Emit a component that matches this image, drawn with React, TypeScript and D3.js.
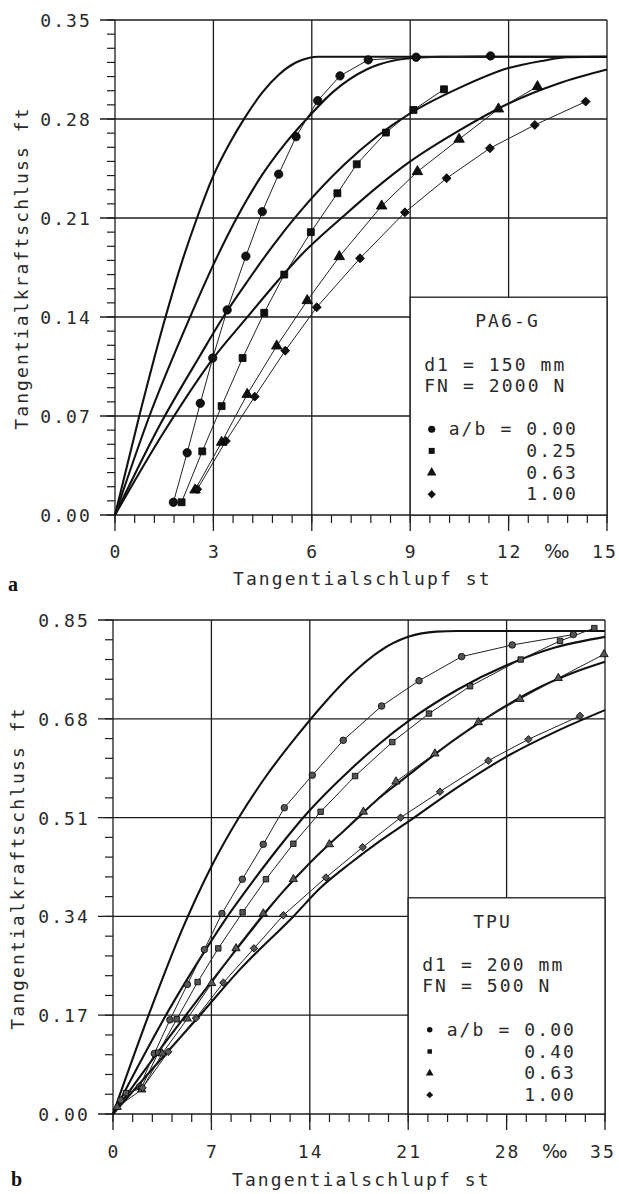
import React from "react";
import * as d3 from "d3";

type Pt = [number, number];

const FONT = "'DejaVu Sans Mono', 'Liberation Mono', monospace";
const INK = "#1c1c1c";
const TEXT_INK = "#2a2a2a";

// ---------------- Panel a (PA6-G) ----------------
const aXTicks = [0, 3, 6, 9, 12, 15];
const aXTickLabels = ["0", "3", "6", "9", "12", "15"];
const aYTicks = [0, 0.07, 0.14, 0.21, 0.28, 0.35];
const aYTickLabels = ["0.00", "0.07", "0.14", "0.21", "0.28", "0.35"];
const aXMinorStep = 0.6;
const aYMinorStep = 0.01;

const aCurve1: Pt[] = [[0, 0], [0.74, 0.07], [1.54, 0.14], [2.0, 0.176], [2.5, 0.21], [3.0, 0.24], [3.5, 0.263], [3.96, 0.281], [4.5, 0.299], [5.0, 0.3115], [5.5, 0.3198], [5.9, 0.3232], [6.2, 0.324], [15, 0.324]];
const aCurve2: Pt[] = [[0, 0], [1.05, 0.07], [2.29, 0.14], [3.0, 0.177], [3.71, 0.21], [4.5, 0.241], [5.2, 0.263], [5.92, 0.282], [6.64, 0.299], [7.67, 0.315], [8.5, 0.3213], [9.3, 0.3235], [10, 0.324], [15, 0.324]];
const aCurve3: Pt[] = [[0, 0], [1.4, 0.065], [2.6, 0.113], [3.3, 0.14], [4.06, 0.166], [4.8, 0.19], [5.64, 0.2145], [7.0, 0.248], [8.0, 0.268], [9.0, 0.284], [10.5, 0.302], [12.0, 0.316], [13.0, 0.321], [13.8, 0.3237], [15, 0.324]];
const aCurve4: Pt[] = [[0, 0], [1.5, 0.059], [3.0, 0.111], [4.0, 0.139], [4.98, 0.166], [5.64, 0.183], [7.0, 0.212], [8.0, 0.232], [9.0, 0.25], [10.5, 0.272], [12.0, 0.291], [13.5, 0.305], [15, 0.315]];

const aCircles: Pt[] = [[1.78, 0.009], [2.2, 0.044], [2.6, 0.079], [2.98, 0.111], [3.42, 0.145], [3.99, 0.183], [4.49, 0.2145], [4.99, 0.241], [5.52, 0.2675], [6.18, 0.293], [6.86, 0.3105], [7.72, 0.3218], [9.18, 0.3237], [11.45, 0.3246]];
const aSquares: Pt[] = [[2.03, 0.009], [2.66, 0.045], [3.25, 0.077], [3.89, 0.111], [4.55, 0.143], [5.16, 0.17], [5.97, 0.2], [6.78, 0.2275], [7.37, 0.248], [8.26, 0.2704], [9.1, 0.2864], [10.03, 0.301]];
const aTriangles: Pt[] = [[2.44, 0.0177], [3.25, 0.0514], [4.03, 0.0853], [4.93, 0.1195], [5.86, 0.1516], [6.84, 0.1827], [8.13, 0.2185], [9.22, 0.2428], [10.49, 0.2657], [11.69, 0.2871], [12.88, 0.3029]];
const aDiamonds: Pt[] = [[2.51, 0.0182], [3.38, 0.0523], [4.26, 0.0837], [5.19, 0.1162], [6.15, 0.1469], [7.47, 0.1815], [8.84, 0.214], [10.11, 0.2381], [11.43, 0.2593], [12.8, 0.2758], [14.35, 0.2923]];

const aLegendTitle = "PA6-G";
const aLegendLines = ["d1 = 150 mm", "FN = 2000 N"];
const aLegendValues = ["0.00", "0.25", "0.63", "1.00"];
const aLegendCorner: Pt = [9, 0.154];

// ---------------- Panel b (TPU) ----------------
const bXTicks = [0, 7, 14, 21, 28, 35];
const bXTickLabels = ["0", "7", "14", "21", "28", "35"];
const bYTicks = [0, 0.17, 0.34, 0.51, 0.68, 0.85];
const bYTickLabels = ["0.00", "0.17", "0.34", "0.51", "0.68", "0.85"];
const bXMinorStep = 1.4;
const bYMinorStep = 0.034;

const bCurve1: Pt[] = [[0, 0], [2.5, 0.168], [5, 0.322], [7, 0.426], [9, 0.512], [11, 0.585], [13, 0.648], [15, 0.706], [17, 0.757], [19, 0.797], [21, 0.821], [23, 0.83], [24.5, 0.831], [35, 0.831]];
const bCurve2: Pt[] = [[0, 0], [2, 0.092], [4, 0.18], [6, 0.26], [8, 0.335], [10, 0.402], [12, 0.465], [13.9, 0.52], [16.86, 0.592], [19, 0.638], [21.01, 0.676], [24.5, 0.73], [28, 0.772], [31.5, 0.803], [35, 0.821]];
const bCurve3: Pt[] = [[0, 0], [3, 0.1], [6, 0.196], [9, 0.29], [12, 0.38], [14, 0.432], [16.86, 0.497], [19, 0.545], [21.01, 0.583], [23.5, 0.63], [25.99, 0.672], [28, 0.703], [30, 0.73], [32.5, 0.757], [35, 0.778]];
const bCurve4: Pt[] = [[0, 0], [3, 0.083], [6.19, 0.17], [9, 0.248], [12.83, 0.34], [14.8, 0.39], [16.86, 0.431], [19, 0.47], [21.01, 0.503], [24.5, 0.562], [28, 0.615], [31.5, 0.658], [35, 0.695]];

const bCircles: Pt[] = [[0.55, 0.024], [1.9, 0.047], [2.94, 0.104], [4.05, 0.162], [5.29, 0.223], [6.5, 0.283], [7.75, 0.345], [9.2, 0.404], [10.69, 0.464], [12.19, 0.527], [14.18, 0.583], [16.38, 0.643], [19.11, 0.702], [21.77, 0.7455], [24.8, 0.787], [28.4, 0.807], [32.75, 0.825]];
const bSquares: Pt[] = [[0.92, 0.036], [2.0, 0.044], [3.22, 0.1055], [4.53, 0.163], [6.02, 0.227], [7.49, 0.285], [9.22, 0.347], [10.88, 0.404], [12.83, 0.465], [14.77, 0.52], [17.22, 0.5815], [19.87, 0.64], [22.48, 0.689], [25.4, 0.736], [29.0, 0.782], [31.8, 0.814], [34.24, 0.836]];
const bTriangles: Pt[] = [[0.3, 0.012], [2.05, 0.042], [3.5, 0.104], [5.29, 0.164], [7.02, 0.225], [8.75, 0.285], [10.69, 0.345], [12.83, 0.404], [15.39, 0.464], [17.81, 0.52], [20.13, 0.572], [22.9, 0.62], [25.99, 0.674], [28.95, 0.714], [31.68, 0.75], [34.93, 0.791]];
const bDiamonds: Pt[] = [[2.1, 0.045], [3.93, 0.107], [5.9, 0.165], [7.85, 0.226], [10.03, 0.285], [12.12, 0.342], [15.15, 0.407], [17.76, 0.459], [20.46, 0.51], [23.26, 0.5546], [26.7, 0.608], [29.55, 0.6447], [33.22, 0.685]];

const bLegendTitle = "TPU";
const bLegendLines = ["d1 = 200 mm", "FN = 500 N"];
const bLegendValues = ["0.00", "0.40", "0.63", "1.00"];
const bLegendCorner: Pt = [21, 0.372];

const xTitle = "Tangentialschlupf st";
const yTitle = "Tangentialkraftschluss ft";
const unitLabel = "‰";

// circle, square, triangle, diamond (square rotated by 45°)
const symbolTypes = [d3.symbolCircle, d3.symbolSquare, d3.symbolTriangle, d3.symbolSquare];
const symbolRot = [0, 0, 0, 45];

interface PanelProps {
  xDomain: Pt;
  yDomain: Pt;
  xRange: Pt;
  yRange: Pt;
  xTicks: number[];
  xTickLabels: string[];
  yTicks: number[];
  yTickLabels: string[];
  xMinorStep: number;
  yMinorStep: number;
  curves: Pt[][];
  series: Pt[][];
  markerSizes: number[];
  markerFill: string;
  legendSizes: number[];
  legendTitle: string;
  legendLines: string[];
  legendValues: string[];
  legendCorner: Pt;
  yLabelRight: number;
  xLabelBaseline: number;
  yTitleX: number;
  yTitleY: number;
  xTitleX: number;
  xTitleBaseline: number;
  letter: string;
  letterPos: Pt;
}

const fontStyle: React.CSSProperties = { fontFamily: FONT, fontSize: 18, letterSpacing: 2.1, fill: TEXT_INK };

function Panel(p: PanelProps) {
  const x = d3.scaleLinear().domain(p.xDomain).range(p.xRange);
  const y = d3.scaleLinear().domain(p.yDomain).range(p.yRange);
  const [xl, xr] = p.xRange;
  const [yb, yt] = p.yRange;
  const xMinor = d3.range(p.xDomain[0], p.xDomain[1] + 1e-9, p.xMinorStep);
  const yMinor = d3.range(p.yDomain[0], p.yDomain[1] + 1e-9, p.yMinorStep);
  const thick = d3.line<Pt>().x((d) => x(d[0])).y((d) => y(d[1])).curve(d3.curveMonotoneX);
  const thin = d3.line<Pt>().x((d) => x(d[0])).y((d) => y(d[1]));
  const lx = x(p.legendCorner[0]);
  const ly = y(p.legendCorner[1]);
  const gridW = 1.3;
  const nT = p.xTicks.length;

  return (
    <g>
      {/* minor ticks */}
      {yMinor.map((v, i) => (
        <line key={"ym" + i} x1={xl - 8} x2={xl} y1={y(v)} y2={y(v)} stroke={INK} strokeWidth={1.2} />
      ))}
      {xMinor.map((v, i) => (
        <line key={"xm" + i} x1={x(v)} x2={x(v)} y1={yb} y2={yb + 8} stroke={INK} strokeWidth={1.2} />
      ))}
      {/* grid lines and major ticks */}
      {p.yTicks.map((v, i) => (
        <line key={"yg" + i} x1={xl - 15} x2={xr} y1={y(v)} y2={y(v)} stroke={INK} strokeWidth={gridW} />
      ))}
      {p.xTicks.map((v, i) => (
        <line key={"xg" + i} x1={x(v)} x2={x(v)} y1={yt} y2={yb + 16} stroke={INK} strokeWidth={gridW} />
      ))}
      {/* legend box */}
      <rect x={lx} y={ly} width={xr - lx} height={yb - ly} fill="#fff" stroke={INK} strokeWidth={gridW} />
      {/* model curves */}
      {p.curves.map((c, i) => (
        <path key={"c" + i} d={thick(c) || ""} fill="none" stroke="#111" strokeWidth={2.1} />
      ))}
      {/* measured series */}
      {p.series.map((s, i) => (
        <path key={"s" + i} d={thin(s) || ""} fill="none" stroke="#222" strokeWidth={1} />
      ))}
      {p.series.map((s, i) =>
        s.map((d, j) => (
          <path
            key={"m" + i + "-" + j}
            transform={`translate(${x(d[0])},${y(d[1])}) rotate(${symbolRot[i]})`}
            d={d3.symbol().type(symbolTypes[i]).size(p.markerSizes[i])() || ""}
            fill={p.markerFill}
            stroke="#000"
            strokeWidth={0.8}
          />
        ))
      )}
      {/* tick labels */}
      {p.yTicks.map((v, i) => (
        <text key={"yl" + i} x={p.yLabelRight} y={y(v) + 7} textAnchor="end" style={fontStyle}>
          {p.yTickLabels[i]}
        </text>
      ))}
      {p.xTicks.map((v, i) => (
        <text
          key={"xl" + i}
          x={i === nT - 1 ? x(v) - 2 : x(v) + 1}
          y={p.xLabelBaseline}
          textAnchor="middle"
          style={fontStyle}
        >
          {p.xTickLabels[i]}
        </text>
      ))}
      <text
        x={(x(p.xTicks[nT - 2]) + x(p.xTicks[nT - 1])) / 2 - 1}
        y={p.xLabelBaseline}
        textAnchor="middle"
        style={{ fontFamily: "'DejaVu Sans', sans-serif", fontSize: 19, fill: TEXT_INK }}
      >
        {unitLabel}
      </text>
      {/* axis titles */}
      <text x={p.xTitleX} y={p.xTitleBaseline} style={fontStyle}>
        {xTitle}
      </text>
      <text
        transform={`translate(${p.yTitleX},${p.yTitleY}) rotate(-90)`}
        textAnchor="middle"
        style={fontStyle}
      >
        {yTitle}
      </text>
      {/* legend text */}
      <text x={lx + 65} y={ly + 30} style={fontStyle}>
        {p.legendTitle}
      </text>
      {p.legendLines.map((t, i) => (
        <text key={"ll" + i} x={lx + 14} y={ly + 73.5 + i * 21} style={{ ...fontStyle, whiteSpace: "pre" }} xmlSpace="preserve">
          {t}
        </text>
      ))}
      {p.legendValues.map((v, i) => {
        const base = ly + 138 + i * 21.7;
        return (
          <g key={"lv" + i}>
            <path
              transform={`translate(${lx + 21.5},${base - 6}) rotate(${symbolRot[i]})`}
              d={d3.symbol().type(symbolTypes[i]).size(p.legendSizes[i])() || ""}
              fill="#111"
            />
            <text x={lx + 38.5} y={base} style={{ ...fontStyle, whiteSpace: "pre" }} xmlSpace="preserve">
              {(i === 0 ? "a/b = " : "      ") + v}
            </text>
          </g>
        );
      })}
      <text
        x={p.letterPos[0]}
        y={p.letterPos[1]}
        style={{ fontFamily: "'Liberation Serif', 'DejaVu Serif', serif", fontWeight: 700, fontSize: 20, fill: "#111" }}
      >
        {p.letter}
      </text>
    </g>
  );
}

export default function App() {
  return (
    <svg
      width={619}
      height={1194}
      viewBox="0 0 619 1194"
      style={{ position: "absolute", left: 0, top: 0, background: "#fff" }}
    >
      <rect x={0} y={0} width={619} height={1194} fill="#fff" />
      <Panel
        xDomain={[0, 15]}
        yDomain={[0, 0.35]}
        xRange={[115, 607]}
        yRange={[515, 20]}
        xTicks={aXTicks}
        xTickLabels={aXTickLabels}
        yTicks={aYTicks}
        yTickLabels={aYTickLabels}
        xMinorStep={aXMinorStep}
        yMinorStep={aYMinorStep}
        curves={[aCurve1, aCurve2, aCurve3, aCurve4]}
        series={[aCircles, aSquares, aTriangles, aDiamonds]}
        markerSizes={[55, 48, 48, 40]}
        markerFill="#111"
        legendSizes={[40, 36, 40, 34]}
        legendTitle={aLegendTitle}
        legendLines={aLegendLines}
        legendValues={aLegendValues}
        legendCorner={aLegendCorner}
        yLabelRight={92}
        xLabelBaseline={558}
        yTitleX={28}
        yTitleY={268}
        xTitleX={233}
        xTitleBaseline={585}
        letter="a"
        letterPos={[8, 591]}
      />
      <Panel
        xDomain={[0, 35]}
        yDomain={[0, 0.85]}
        xRange={[113, 605]}
        yRange={[1114, 620]}
        xTicks={bXTicks}
        xTickLabels={bXTickLabels}
        yTicks={bYTicks}
        yTickLabels={bYTickLabels}
        xMinorStep={bXMinorStep}
        yMinorStep={bYMinorStep}
        curves={[bCurve1, bCurve2, bCurve3, bCurve4]}
        series={[bCircles, bSquares, bTriangles, bDiamonds]}
        markerSizes={[34, 30, 30, 28]}
        markerFill="#555"
        legendSizes={[24, 20, 26, 24]}
        legendTitle={bLegendTitle}
        legendLines={bLegendLines}
        legendValues={bLegendValues}
        legendCorner={bLegendCorner}
        yLabelRight={90}
        xLabelBaseline={1158}
        yTitleX={24}
        yTitleY={868}
        xTitleX={232}
        xTitleBaseline={1186}
        letter="b"
        letterPos={[11, 1186]}
      />
    </svg>
  );
}
